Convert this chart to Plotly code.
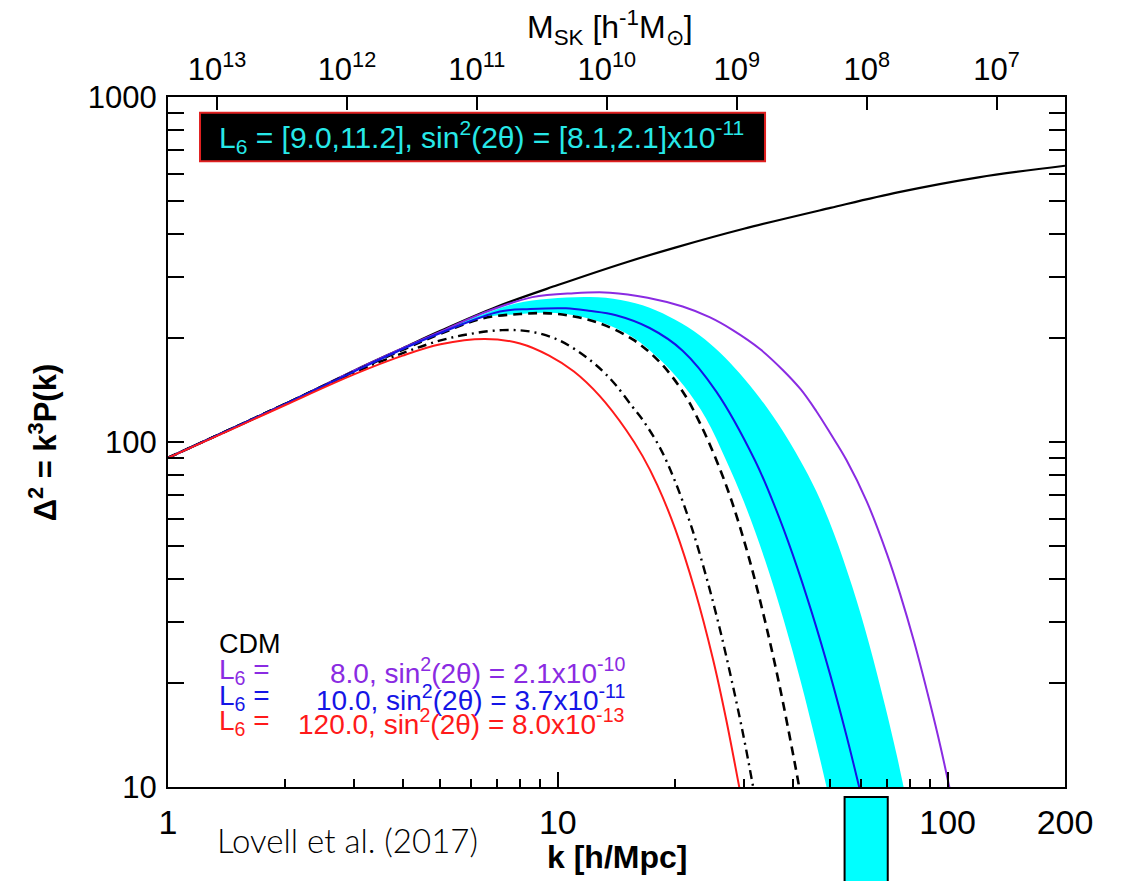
import numpy as np
import plotly.graph_objects as go

# ---------------- data ----------------
k_cdm = [1, 1.5, 2, 3, 4, 5, 7, 10, 15, 20, 30, 50, 75, 120, 200]
d_cdm = [90, 111, 129, 161, 187, 210, 247, 285, 332, 366, 415, 477, 530, 585, 632]

k_purple = [1, 2, 3, 4, 5, 6.4, 8.6, 11, 13.6, 17, 20.9, 24.5, 28.1, 33, 37.7, 42, 46, 50, 55,
            62, 70, 75.5, 82, 90, 96, 101, 106]
d_purple = [90, 129, 161, 187, 209, 236, 263, 270, 271, 262, 247, 230, 211, 186, 162, 142, 123, 106, 88.7,
            67.3, 47.1, 36.3, 26.4, 17.6, 13.0, 10, 7.8]

k_blue = [1, 1.5, 2, 3, 4, 5, 7.1, 8.5, 10.5, 12, 14.1, 17.2, 20.9, 25.5, 32,
          36, 40, 45, 50, 55, 59.3, 63]
d_blue = [90, 111, 129, 160, 186, 207, 239, 243, 244, 240, 233, 214, 184, 140, 88.7,
          65.2, 47.4, 31.6, 21.1, 14.1, 10, 7.5]

k_red = [1, 1.5, 2, 3, 4, 5, 6.5, 8, 9.5, 11, 12.8, 15, 16.5, 18, 20, 22.5, 25, 27, 29.2, 31]
d_red = [90, 110.5, 128, 157, 178, 192, 199, 193, 178, 160, 136, 108, 91, 75, 56, 37, 23.5, 15.8, 10, 7]

k_dashed = [1, 1.5, 2, 3, 4, 5, 6.4, 8, 9.5, 11, 12.8, 15.6, 18.3, 21, 23.1, 25.5,
            28, 31, 34, 37, 40, 41.6, 44]
d_dashed = [90, 111, 129, 160, 185, 206, 228, 235, 236, 231, 221, 198, 170, 139, 114, 88.7,
            66.8, 45.7, 30.3, 19.8, 12.7, 10, 7.0]

k_dashdot = [1, 1.5, 2, 3, 4, 5, 6, 7.2, 8.5, 10, 11.6, 13, 14.1, 15.5, 16.5, 18.3,
             20, 22, 24, 26, 28, 30, 31.7, 33.5]
d_dashdot = [90, 111, 129, 159, 181, 197, 206, 211, 209, 198, 179, 161, 146, 127, 116, 96,
             76.8, 56.9, 40.9, 28.9, 20.1, 13.9, 10, 7.1]

k_band_hi = [1, 2, 3, 4, 5, 6.2, 7.8, 9.5, 12.1, 14.5, 17.2, 20, 23.1, 26, 29.3, 33, 37.7, 41.8,
             46, 51, 57, 63, 69, 74, 77.1, 82]
d_band_hi = [90, 129, 161, 187, 209, 231, 252, 260, 263, 258, 245, 226, 204, 182, 158, 134, 108, 88.7,
             72.1, 54.6, 37.9, 25.8, 17.3, 12.4, 10, 7.2]

k_band_lo = [1, 2, 3, 4, 5, 6.4, 8, 9.5, 11, 12.8, 15.6, 18.3, 21, 24, 27,
             30, 34, 38, 42, 46, 48.9, 52]
d_band_lo = [90, 129, 160, 185, 207, 229, 235, 237, 233, 223, 201, 173, 146, 117, 88.7,
             67.2, 45.5, 30.4, 20.2, 13.4, 10, 7.3]

k_range = [1, 200]
y_range = [10, 1000]
k_major = [1, 10, 100, 200]
k_major_text = ["1", "10", "100", "200"]
k_minor = [2, 3, 4, 5, 6, 7, 8, 9, 20, 30, 40, 50, 60, 70, 80, 90]
y_major = [10, 100, 1000]
y_major_text = ["10", "100", "1000"]
y_minor = [20, 30, 40, 50, 60, 70, 80, 90, 200, 300, 400, 500, 600, 700, 800, 900]

# top axis: M_SK as a function of k (M proportional to k^-3)
logM_at_k1 = 13.377
mass_ticks = [1e13, 1e12, 1e11, 1e10, 1e9, 1e8, 1e7]
mass_tick_text = ["10<sup>13</sup>", "10<sup>12</sup>", "10<sup>11</sup>", "10<sup>10</sup>",
                  "10<sup>9</sup>", "10<sup>8</sup>", "10<sup>7</sup>"]

highlight_k = [54.4, 70.2]

PURPLE = "#8a2be2"
BLUE = "#1515e6"
RED = "#ff1a1a"
CYAN = "#00ffff"
FONT = "Liberation Sans, Arial, sans-serif"

fig = go.Figure()

# cyan band
fig.add_trace(go.Scatter(x=k_band_hi, y=d_band_hi, mode="lines",
                         line=dict(width=0, shape="spline", smoothing=1),
                         hoverinfo="skip", showlegend=False))
fig.add_trace(go.Scatter(x=k_band_lo, y=d_band_lo, mode="lines", fill="tonexty",
                         fillcolor=CYAN,
                         line=dict(width=0, shape="spline", smoothing=1),
                         hoverinfo="skip", showlegend=False))


def line(k, d, color, dash="solid", width=2):
    fig.add_trace(go.Scatter(x=k, y=d, mode="lines",
                             line=dict(color=color, width=width, dash=dash,
                                       shape="spline", smoothing=1),
                             showlegend=False))


line(k_cdm, d_cdm, "black", width=2.2)
line(k_purple, d_purple, PURPLE)
line(k_dashed, d_dashed, "black", dash="9px,6px", width=2.6)
line(k_dashdot, d_dashdot, "black", dash="9px,5px,2px,5px", width=2.4)
line(k_blue, d_blue, BLUE)
line(k_red, d_red, RED)

# helper trace for the top mass axis
fig.add_trace(go.Scatter(x=mass_ticks, y=[None] * len(mass_ticks), xaxis="x2",
                         mode="lines", showlegend=False, hoverinfo="skip"))

logk_lo, logk_hi = np.log10(k_range[0]), np.log10(k_range[1])
top_range = [logM_at_k1 - 3 * logk_lo, logM_at_k1 - 3 * logk_hi]

fig.update_layout(
    width=1122, height=881,
    margin=dict(l=168, r=57, t=97, b=94),
    paper_bgcolor="white", plot_bgcolor="white",
    font=dict(family=FONT, color="black"),
    showlegend=False,
    xaxis=dict(type="log", range=[logk_lo, logk_hi],
               showline=True, linecolor="black", linewidth=2, mirror=True,
               showgrid=False, zeroline=False,
               ticks="inside", ticklen=15, tickwidth=2, tickcolor="black",
               tickmode="array", tickvals=k_major, ticktext=k_major_text,
               tickfont=dict(size=34, family=FONT), ticklabelstandoff=4,
               minor=dict(tickmode="array", tickvals=k_minor, ticks="inside",
                          ticklen=8, tickwidth=2, tickcolor="black", showgrid=False)),
    xaxis2=dict(type="log", range=top_range, overlaying="x", side="top",
                anchor="y", showline=False, showgrid=False, zeroline=False,
                ticks="inside", ticklen=13, tickwidth=2, tickcolor="black",
                tickmode="array", tickvals=mass_ticks, ticktext=mass_tick_text,
                tickfont=dict(size=31, family=FONT), ticklabelstandoff=10),
    yaxis=dict(type="log", range=[np.log10(y_range[0]), np.log10(y_range[1])],
               showline=True, linecolor="black", linewidth=2, mirror="allticks",
               showgrid=False, zeroline=False,
               ticks="inside", ticklen=16, tickwidth=2, tickcolor="black",
               tickmode="array", tickvals=y_major, ticktext=y_major_text,
               tickfont=dict(size=31, family=FONT), ticklabelstandoff=3,
               minor=dict(tickmode="array", tickvals=y_minor, ticks="inside",
                          ticklen=8, tickwidth=2, tickcolor="black", showgrid=False)),
)

# parameter box at top-left
fig.add_shape(type="rect", xref="paper", yref="paper",
              x0=0.0357, x1=0.6656, y0=0.907, y1=0.977,
              fillcolor="black", line=dict(color="#e02020", width=2), layer="above")
fig.add_annotation(xref="paper", yref="paper", x=0.350, y=0.942,
                   xanchor="center", yanchor="middle", showarrow=False,
                   text="L<sub>6</sub> = [9.0,11.2], sin<sup>2</sup>(2θ) = [8.1,2.1]x10<sup>-11</sup>",
                   font=dict(size=30, color="#27e8e8", family=FONT))

# legend text
legend_rows = [
    ("black", None, "CDM"),
    (PURPLE, "L<sub>6</sub> =", "8.0, sin<sup>2</sup>(2θ) = 2.1x10<sup>-10</sup>"),
    (BLUE, "L<sub>6</sub> =", "10.0, sin<sup>2</sup>(2θ) = 3.7x10<sup>-11</sup>"),
    (RED, "L<sub>6</sub> =", "120.0, sin<sup>2</sup>(2θ) = 8.0x10<sup>-13</sup>"),
]
row_y = [0.207, 0.168, 0.129, 0.094]
for (col, pre, rest), yy in zip(legend_rows, row_y):
    if pre is None:
        fig.add_annotation(xref="paper", yref="paper", x=0.0546, y=yy,
                           xanchor="left", yanchor="middle", showarrow=False,
                           text=rest, font=dict(size=27, color=col, family=FONT))
    else:
        fig.add_annotation(xref="paper", yref="paper", x=0.0546, y=yy,
                           xanchor="left", yanchor="middle", showarrow=False,
                           text=pre, font=dict(size=28, color=col, family=FONT))
        fig.add_annotation(xref="paper", yref="paper", x=0.512, y=yy,
                           xanchor="right", yanchor="middle", showarrow=False,
                           text=rest, font=dict(size=28, color=col, family=FONT))

# axis titles
fig.add_annotation(xref="paper", yref="paper", x=0.4928, y=1.1,
                   xanchor="center", yanchor="middle", showarrow=False,
                   text="M<sub>SK</sub> [h<sup>-1</sup>M<sub>⊙</sub>]",
                   font=dict(size=32, family=FONT))
fig.add_annotation(xref="paper", yref="paper", x=-0.139, y=0.5,
                   xanchor="center", yanchor="middle", showarrow=False, textangle=-90,
                   text="<b>Δ<sup>2</sup> = k<sup>3</sup>P(k)</b>",
                   font=dict(size=31, family=FONT))
fig.add_annotation(xref="paper", yref="paper", x=0.5006, y=-0.1014,
                   xanchor="center", yanchor="middle", showarrow=False,
                   text="<b>k [h/Mpc]</b>", font=dict(size=32, family=FONT))
fig.add_annotation(xref="paper", yref="paper", x=0.0524, y=-0.077,
                   xanchor="left", yanchor="middle", showarrow=False,
                   text="Lovell et al. (2017)",
                   font=dict(size=33, family="Lato, Open Sans, sans-serif", weight=300))

# cyan marker box below the axis (k range)
fig.add_shape(type="rect", xref="x", yref="paper",
              x0=highlight_k[0], x1=highlight_k[1],
              y0=-0.20, y1=-0.0145,
              fillcolor=CYAN, line=dict(color="black", width=2), layer="above")

fig.write_html("out.html")
